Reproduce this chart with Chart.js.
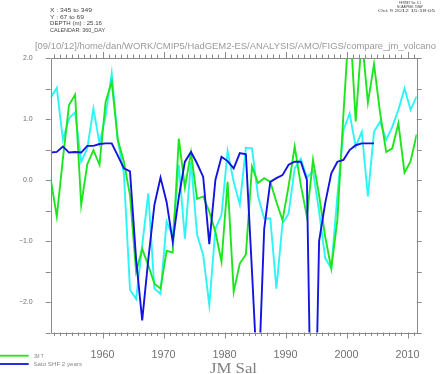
<!DOCTYPE html>
<html>
<head>
<meta charset="utf-8">
<script src="https://cdn.jsdelivr.net/npm/chart.js@4.4.1/dist/chart.umd.min.js"></script>
<style>
  html, body { margin: 0; padding: 0; background: #fff; }
  #wrap { position: relative; width: 440px; height: 374px; overflow: hidden; }
  #wrap canvas, #wrap svg { position: absolute; left: 0; top: 0; }
  svg text { font-family: "Liberation Sans", Arial, sans-serif; }
</style>
</head>
<body>
<div id="wrap">
  <canvas id="chart" width="440" height="374"></canvas>
  <svg width="440" height="374">
    <g fill="#444" font-size="6">
      <text x="50" y="12" textLength="42" lengthAdjust="spacingAndGlyphs">X : 345 to 349</text>
      <text x="50" y="18.6" textLength="34" lengthAdjust="spacingAndGlyphs">Y : 67 to 69</text>
      <text x="50" y="25.3" textLength="52" lengthAdjust="spacingAndGlyphs">DEPTH (m) : 25.16</text>
      <text x="50" y="32" textLength="55" lengthAdjust="spacingAndGlyphs">CALENDAR: 360_DAY</text>
    </g>
    <g fill="#444" font-size="4" text-anchor="middle">
      <text x="410" y="3.6" textLength="22" lengthAdjust="spacingAndGlyphs">FERRET Ver. 6.1</text>
      <text x="410" y="7.8" textLength="26" lengthAdjust="spacingAndGlyphs">NOAA/PMEL TMAP</text>
      <text x="406.5" y="12.2" textLength="57" lengthAdjust="spacingAndGlyphs">Oct  9 2012 15:18:05</text>
    </g>
    <text x="35" y="48.5" fill="#9a9a9a" font-size="9.5" textLength="401" lengthAdjust="spacingAndGlyphs">[09/10/12]/home/dan/WORK/CMIP5/HadGEM2-ES/ANALYSIS/AMO/FIGS/compare_jm_volcano</text>
    <line x1="0" y1="355.7" x2="28.7" y2="355.7" stroke="#1ee61e" stroke-width="1.8"/>
    <line x1="0" y1="364" x2="28.7" y2="364" stroke="#1414e0" stroke-width="1.8"/>
    <g fill="#888" font-size="5">
      <text x="33.5" y="357.5" textLength="10" lengthAdjust="spacingAndGlyphs">JM T</text>
      <text x="33.5" y="366" textLength="48.5" lengthAdjust="spacingAndGlyphs">Sato SHF 2 years</text>
    </g>
    <text x="210" y="372.5" fill="#808080" font-size="14" style="font-family:'Liberation Serif',serif" textLength="47" lengthAdjust="spacingAndGlyphs">JM Sal</text>
  </svg>
</div>
<script>
// annual values, plotted at mid-year
const years = [1951, 1952, 1953, 1954, 1955, 1956, 1957, 1958, 1959, 1960,
  1961, 1962, 1963, 1964, 1965, 1966, 1967, 1968, 1969, 1970,
  1971, 1972, 1973, 1974, 1975, 1976, 1977, 1978, 1979, 1980,
  1981, 1982, 1983, 1984, 1985, 1986, 1987, 1988, 1989, 1990,
  1991, 1992, 1993, 1994, 1995, 1996, 1997, 1998, 1999, 2000,
  2001, 2002, 2003, 2004, 2005, 2006, 2007, 2008, 2009, 2010, 2011];

const jmT = [0.02, -0.6, 0.35, 1.23, 1.40, -0.41, 0.26, 0.49, 0.25, 1.28,
  1.61, 0.66, 0.30, -0.25, -1.5, -1.13, -1.4, -1.7, -1.78, -1.16,
  -1.19, 0.68, -0.12, 0.45, -0.31, -0.27, -0.52, -0.85, -1.34, -0.03,
  -1.83, -1.37, -1.22, 0.22, -0.05, 0.03, -0.03, -0.36, -0.66, -0.1,
  0.55, -0.08, -0.6, 0.33, -0.25, -0.93, -1.45, -0.65, 1.1, 2.7,
  0.96, 2.35, 1.27, 1.9, 1.1, 0.46, 0.52, 0.93, 0.12, 0.31, 0.75];

const jmSal = [1.35, 1.51, 0.66, 1.01, 1.11, 0.30, 0.52, 1.17, 0.60, 1.05,
  1.75, 0.65, 0.10, -1.8, -1.95, -1.07, -0.22, -1.78, -1.87, -0.68,
  -0.92, 0.25, -0.96, 0.30, -0.9, -1.23, -2.05, -0.8, -0.57, 0.47,
  -0.03, -0.4, 0.53, 0.52, -0.27, -0.63, -0.63, -1.78, -0.71, -0.55,
  0.19, 0.35, 0.04, 0.15, -0.52, -1.28, -1.45, -0.25, 0.82, 1.09,
  0.55, 0.79, -0.27, 0.79, 0.96, 0.66, 0.87, 1.15, 1.5, 1.15, 1.37];

const satoShf = [0.45, 0.46, 0.55, 0.45, 0.46, 0.45, 0.56, 0.56, 0.59, 0.60,
  0.60, 0.40, 0.19, 0.14, -1.3, -2.3, -1.3, -0.41, 0.04, -0.36,
  -1.01, -0.28, 0.30, 0.46, 0.27, 0.05, -1.05, 0.0, 0.38, 0.31,
  0.19, 0.44, 0.42, -1.5, -3.5, -0.8, -0.03, 0.03, 0.08, 0.25,
  0.30, 0.30, 0.0, -6.0, -1.0, -0.38, 0.11, 0.30, 0.33, 0.49,
  0.57, 0.60, 0.60, 0.60, null, null, null, null, null, null, null];

const decadeTicks = [1960, 1970, 1980, 1990, 2000, 2010];
const yLabelTicks = [-2, -1, 0, 1, 2];

const AXIS = "#8a8a8a";
const LABEL = "#707070";

const points = (vals) => vals.map((v, i) => ({ x: years[i] + 0.5, y: v }));

const frameTicks = {
  id: "frameTicks",
  afterDatasetsDraw(chart) {
    const { ctx, chartArea: a, scales: { x, y } } = chart;
    ctx.save();
    ctx.strokeStyle = AXIS;
    ctx.lineWidth = 1;
    ctx.beginPath();
    ctx.rect(Math.round(a.left) + 0.5, Math.round(a.top) + 0.5,
      Math.round(a.right - a.left), Math.round(a.bottom - a.top));
    ctx.stroke();

    ctx.beginPath();
    for (let yr = 1952; yr <= 2011; yr++) {
      const px = Math.round(x.getPixelForValue(yr)) + 0.5;
      const len = yr % 10 === 0 ? 6 : 3.5;
      ctx.moveTo(px, a.bottom); ctx.lineTo(px, a.bottom + len);
      ctx.moveTo(px, a.top); ctx.lineTo(px, a.top - len);
    }
    for (let v = -2.5; v <= 2.0001; v += 0.5) {
      const py = Math.round(y.getPixelForValue(v)) + 0.5;
      ctx.moveTo(a.left, py); ctx.lineTo(a.left - 5, py);
      ctx.moveTo(a.right, py); ctx.lineTo(a.right + 5, py);
    }
    ctx.stroke();
    ctx.restore();
  },
};

const lineStyle = { borderWidth: 1.9, pointRadius: 0, tension: 0, spanGaps: false, borderJoinStyle: "miter" };

new Chart(document.getElementById("chart"), {
  type: "line",
  data: {
    datasets: [
      { label: "Sato SHF 2 years", data: points(satoShf), borderColor: "#1414e0", order: 0, ...lineStyle },
      { label: "JM T", data: points(jmT), borderColor: "#1ee61e", order: 1, ...lineStyle },
      { label: "JM Sal", data: points(jmSal), borderColor: "#2ef5f5", order: 2, ...lineStyle },
    ],
  },
  options: {
    responsive: false,
    animation: false,
    events: [],
    layout: { padding: { left: 0, top: 58, right: 23.3, bottom: 0 } },
    plugins: { legend: { display: false }, tooltip: { enabled: false } },
    scales: {
      x: {
        type: "linear",
        min: 1951.5,
        max: 2011.5,
        grid: { display: false },
        border: { display: false },
        afterBuildTicks: (s) => { s.ticks = decadeTicks.map((v) => ({ value: v })); },
        afterFit: (s) => { s.height = 41.5; },
        ticks: {
          autoSkip: false,
          maxRotation: 0,
          padding: 8.5,
          color: LABEL,
          font: { family: "Liberation Sans", size: 10.8 },
          callback: (v) => String(v),
        },
      },
      y: {
        min: -2.5,
        max: 2.0,
        grid: { display: false },
        border: { display: false },
        afterBuildTicks: (s) => { s.ticks = yLabelTicks.map((v) => ({ value: v })); },
        afterFit: (s) => { s.width = 50.7; },
        ticks: {
          padding: 10,
          color: LABEL,
          font: { family: "Liberation Sans", size: 7 },
          callback: (v) => (v < 0 ? "\u2212" + Math.abs(v).toFixed(1) : v.toFixed(1)),
        },
      },
    },
  },
  plugins: [frameTicks],
});
</script>
</body>
</html>
